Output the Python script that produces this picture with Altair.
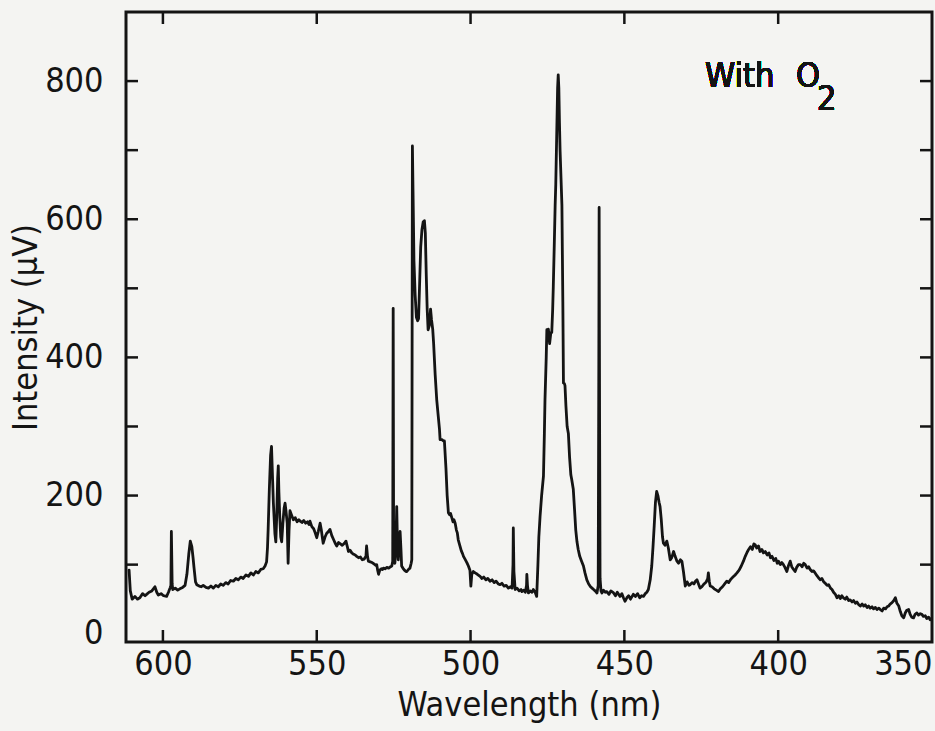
import altair as alt
import pandas as pd

# Emission spectrum with O2: wavelength (nm) vs. detector intensity (µV)
wavelength = [
    611.0, 610.6, 610.0, 609.1, 608.3, 607.5, 606.6, 605.8, 605.3, 604.5,
    603.6, 602.6, 602.0, 601.5, 600.6, 599.8, 598.8, 598.2, 597.7, 597.4,
    597.25, 597.0, 596.8, 596.0, 595.2, 594.5, 593.6, 592.8, 592.2, 591.6,
    591.1, 590.6, 590.2, 589.9, 589.4, 589.0, 588.2, 587.5, 586.9, 586.0,
    585.2, 584.4, 583.6, 582.8, 582.0, 581.2, 580.4, 579.6, 578.8, 578.0,
    577.1, 576.3, 575.5, 574.7, 573.9, 573.0, 572.2, 571.4, 570.6, 569.8,
    569.0, 568.2, 567.4, 566.8, 566.3, 566.0, 565.8, 565.4, 565.0, 564.7,
    564.4, 564.1, 563.9, 563.6, 563.3, 563.0, 562.7, 562.5, 562.3, 562.0,
    561.7, 561.4, 561.0, 560.6, 560.3, 560.0, 559.6, 559.3, 559.0, 558.7,
    558.2, 557.6, 557.0, 556.4, 555.8, 555.4, 554.8, 554.2, 553.6, 553.0,
    552.5, 552.2, 551.6, 551.0, 550.5, 550.0, 549.5, 548.9, 548.5, 548.2,
    547.9, 547.3, 546.8, 546.2, 545.7, 545.1, 544.5, 543.9, 543.5, 542.9,
    542.3, 541.7, 541.0, 540.5, 540.0, 539.7, 539.2, 538.6, 538.0, 537.5,
    537.0, 536.4, 535.8, 535.2, 534.6, 534.0, 533.8, 533.5, 533.2, 532.6,
    532.0, 531.4, 530.8, 530.5, 530.2, 529.9, 529.5, 529.0, 528.6, 528.3,
    527.8, 527.2, 526.6, 526.0, 525.6, 525.3, 525.15, 525.0, 524.6, 524.3,
    524.0, 523.8, 523.5, 523.2, 522.9, 522.6, 522.4, 522.0, 521.5, 521.0,
    520.7, 520.2, 519.7, 519.3, 519.1, 519.0, 518.9, 518.7, 518.4, 518.0,
    517.6, 517.2, 516.9, 516.6, 516.2, 515.8, 515.4, 515.0, 514.7, 514.4,
    514.1, 513.8, 513.4, 513.0, 512.7, 512.3, 512.0, 511.5, 511.0, 510.5,
    510.1, 509.9, 509.3, 508.8, 508.5, 508.0, 507.6, 507.2, 506.8, 506.5,
    506.1, 505.7, 505.4, 505.0, 504.6, 504.3, 504.0, 503.5, 503.0, 502.6,
    502.3, 501.8, 501.2, 500.7, 500.2, 499.9, 499.6, 499.1, 498.5, 497.8,
    496.9, 496.3, 495.7, 495.0, 494.4, 493.7, 493.0, 492.3, 491.7, 491.0,
    490.4, 489.8, 489.1, 488.4, 487.7, 487.0, 486.5, 486.2, 486.1, 485.9,
    485.5, 484.9, 484.2, 483.6, 483.3, 482.7, 482.2, 481.8, 481.7, 481.5,
    481.2, 480.6, 480.0, 479.6, 479.0, 478.5, 478.1, 477.8, 477.4, 476.9,
    476.3, 476.0, 475.8, 475.4, 475.2, 474.9, 474.7, 474.3, 473.9, 473.6,
    473.3, 473.1, 472.8, 472.5, 472.3, 472.0, 471.7, 471.5, 471.3, 471.1,
    470.9, 470.6, 470.3, 470.0, 469.8, 469.5, 469.3, 469.0, 468.6, 468.2,
    467.8, 467.4, 467.1, 466.6, 466.2, 465.8, 465.4, 465.0, 464.5, 464.0,
    463.3, 462.8, 462.2, 461.6, 461.0, 460.5, 460.0, 459.5, 458.9, 458.5,
    458.3, 458.2, 458.05, 457.9, 457.6, 457.3, 456.8, 456.2, 455.7, 455.0,
    454.4, 453.5, 452.9, 452.3, 451.4, 450.8, 450.3, 449.8, 449.2, 448.6,
    448.0, 447.1, 446.4, 445.7, 445.0, 444.4, 443.8, 443.2, 442.7, 442.2,
    441.6, 441.1, 440.7, 440.3, 439.9, 439.5, 439.1, 438.7, 438.4, 438.0,
    437.6, 437.3, 436.8, 436.2, 435.7, 435.1, 434.6, 434.0, 433.5, 432.9,
    432.4, 431.8, 431.3, 430.8, 430.2, 429.6, 429.0, 428.6, 428.0, 427.4,
    426.9, 426.4, 425.9, 425.4, 424.8, 424.1, 423.4, 422.9, 422.7, 422.4,
    422.1, 421.5, 420.8, 420.1, 419.4, 418.8, 418.1, 417.4, 416.7, 416.1,
    415.4, 414.7, 414.0, 413.4, 412.7, 412.0, 411.3, 410.7, 410.1, 409.6,
    409.0, 408.4, 407.9, 407.5, 407.0, 406.4, 405.9, 405.3, 404.8, 404.2,
    403.6, 403.0, 402.5, 402.0, 401.4, 400.8, 400.3, 399.9, 399.3, 398.8,
    398.3, 397.8, 397.2, 396.7, 396.1, 395.6, 395.0, 394.5, 394.0, 393.4,
    392.8, 392.2, 391.7, 391.2, 390.6, 390.1, 389.6, 389.0, 388.5, 388.0,
    387.4, 386.9, 386.3, 385.8, 385.2, 384.7, 384.1, 383.6, 383.0, 382.5,
    382.0, 381.4, 380.9, 380.3, 379.8, 379.3, 378.8, 378.2, 377.7, 377.1,
    376.6, 376.0, 375.5, 374.9, 374.4, 373.8, 373.3, 372.7, 372.2, 371.7,
    371.1, 370.6, 370.1, 369.5, 369.0, 368.4, 367.9, 367.3, 366.8, 366.2,
    365.7, 365.1, 364.6, 364.1, 363.6, 363.0, 362.4, 361.9, 361.4, 360.8,
    360.3, 359.8, 359.2, 358.7, 358.2, 357.6, 357.1, 356.6, 356.0, 355.5,
    354.9, 354.4, 353.8, 353.3, 352.8, 352.2, 351.7, 351.1, 350.6, 350.2,
]

intensity = [
    92, 62, 50, 54, 50, 52, 58, 55, 57, 60,
    62, 68, 60, 56, 58, 55, 54, 60, 66, 70,
    148, 72, 64, 66, 63, 65, 67, 70, 86, 115,
    134, 126, 110, 96, 75, 71, 69, 68, 70, 67,
    66, 69, 66, 70, 68, 72, 70, 74, 72, 77,
    76, 80, 78, 82, 80, 85, 83, 88, 85, 90,
    88, 93, 94, 98, 104, 125, 150, 210, 258, 271,
    230, 190, 172, 145, 133, 170, 225, 243, 205, 168,
    140, 133, 160, 182, 189, 178, 160, 102, 150, 178,
    172, 165, 168, 162, 165, 163, 161, 164, 160, 162,
    158, 163, 155, 152, 146, 139, 148, 160, 150, 140,
    131, 140, 145, 148, 151, 142, 136, 130, 127, 132,
    130, 128, 131, 134, 125, 119, 121, 117, 115, 114,
    112, 110, 111, 107, 108, 112, 127, 112, 105, 104,
    103, 101, 99, 100, 92, 86, 92, 94, 93, 95,
    94, 96, 95, 97, 98, 105, 471, 112, 102, 120,
    184, 140, 107, 130, 148, 120, 98, 95, 92, 90,
    90, 93, 95, 102, 107, 400, 706, 640, 540, 490,
    458, 453, 456, 500, 560, 585, 596, 598, 580, 520,
    470, 440, 446, 470, 455, 441, 420, 375, 339, 315,
    296, 281, 281, 279, 279, 240, 200, 175, 172, 174,
    168, 162, 165, 160, 150, 146, 136, 128, 120, 116,
    112, 108, 103, 98, 92, 69, 86, 90, 88, 86,
    83, 80, 82, 78, 80, 76, 78, 74, 76, 72,
    71, 73, 69, 70, 66, 68, 66, 100, 153, 90,
    64, 66, 62, 64, 61, 63, 60, 70, 86, 70,
    59, 62, 60, 64, 60, 54, 100, 140, 170, 200,
    228, 290, 339, 400, 440, 436, 441, 420, 436, 436,
    470, 503, 560, 620, 650, 720, 790, 809, 790, 740,
    700, 660, 620, 480, 363, 362, 359, 330, 300, 290,
    255, 230, 223, 209, 180, 150, 133, 122, 112, 106,
    98, 88, 78, 72, 68, 66, 64, 62, 59, 70,
    400, 617, 300, 80, 62, 59, 63, 60, 61, 57,
    62, 59, 55, 60, 54, 58, 52, 47, 52, 55,
    50, 57, 54, 58, 52, 55, 54, 58, 60, 64,
    78, 98, 125, 156, 190, 206, 200, 190, 184, 165,
    140, 131, 128, 134, 124, 107, 110, 119, 112, 105,
    102, 107, 105, 90, 69, 75, 70, 71, 74, 72,
    76, 78, 72, 66, 68, 72, 75, 80, 88, 76,
    69, 68, 65, 63, 61, 65, 68, 72, 76, 74,
    79, 82, 85, 88, 92, 98, 105, 112, 118, 122,
    126, 122, 130, 129, 124, 127, 119, 122, 117, 119,
    114, 117, 110, 112, 106, 109, 102, 105, 100, 103,
    100, 96, 90, 98, 105, 97, 93, 90, 96, 100,
    100, 97, 102, 100, 95, 97, 93, 90, 91, 88,
    84, 81, 78, 80, 75, 73, 70, 71, 66, 64,
    60, 57, 52, 55, 51, 55, 52, 50, 53, 48,
    49, 46, 48, 44, 46, 42, 40, 43, 40, 42,
    38, 40, 37, 39, 36, 38, 35, 37, 35, 33,
    37, 36, 39, 40, 43, 45, 48, 52, 44, 40,
    32, 26, 23, 30, 34, 35, 28, 24, 23, 28,
    30, 27, 29, 28, 25, 26, 22, 24, 20, 22,
]

x_tick_values = [600, 550, 500, 450, 400]
x_label_values = [600, 550, 500, 450, 400, 350]
y_tick_values = [100, 200, 300, 400, 500, 600, 700, 800]
y_label_values = [0, 200, 400, 600, 800]

FONT = "DejaVu Sans Condensed, Liberation Sans Narrow, Roboto, sans-serif"
FS = 34
INK = "#141414"
W, H = 806, 630
TICK = 12

spectrum = pd.DataFrame({
    "order": list(range(len(wavelength))),
    "wavelength": wavelength,
    "intensity": intensity,
})
xticks = pd.DataFrame({"wavelength": x_tick_values})
yticks = pd.DataFrame({"intensity": y_tick_values})

xscale = alt.Scale(domain=[350, 612], reverse=True, nice=False, zero=False)
yscale = alt.Scale(domain=[-12, 900], nice=False, zero=False)

x_axis = alt.Axis(
    values=x_label_values, format="d", ticks=False, tickSize=0,
    domain=False, grid=False, labelFlush=True, labelOverlap=False,
    labelFont=FONT, labelFontSize=FS, labelColor=INK, labelPadding=5,
    title="Wavelength (nm)", titleFont=FONT, titleFontSize=FS,
    titleFontWeight="normal", titleColor=INK, titlePadding=7,
)
y_axis = alt.Axis(
    values=y_label_values, format="d", ticks=False, tickSize=0,
    domain=False, grid=False, labelOverlap=False,
    labelFont=FONT, labelFontSize=FS, labelColor=INK, labelPadding=23,
    title="Intensity (µV)", titleFont=FONT, titleFontSize=FS,
    titleFontWeight="normal", titleColor=INK, titlePadding=1,
)

x_enc = alt.X("wavelength:Q", scale=xscale, axis=x_axis)
y_enc = alt.Y("intensity:Q", scale=yscale, axis=y_axis)

line = alt.Chart(spectrum).mark_line(
    color=INK, strokeWidth=2.8, strokeJoin="round", strokeCap="round"
).encode(x=x_enc, y=y_enc, order="order:Q")

# inward-pointing tick marks on all four sides of the frame
tick_style = dict(color=INK, strokeWidth=2.5)
left_ticks = alt.Chart(yticks).mark_rule(**tick_style).encode(
    y=y_enc, x=alt.value(0), x2=alt.value(TICK))
right_ticks = alt.Chart(yticks).mark_rule(**tick_style).encode(
    y=y_enc, x=alt.value(W - TICK), x2=alt.value(W))
bottom_ticks = alt.Chart(xticks).mark_rule(**tick_style).encode(
    x=x_enc, y=alt.value(H - TICK), y2=alt.value(H))
top_ticks = alt.Chart(xticks).mark_rule(**tick_style).encode(
    x=x_enc, y=alt.value(0), y2=alt.value(TICK))

label_style = dict(font=FONT, fontSize=FS, color=INK, align="left",
                   baseline="alphabetic")
note_with = alt.Chart(spectrum).mark_text(**label_style).encode(
    x=alt.value(579), y=alt.value(75), text=alt.value("With"))
note_o = alt.Chart(spectrum).mark_text(**label_style).encode(
    x=alt.value(670), y=alt.value(75), text=alt.value("O"))
note_sub = alt.Chart(spectrum).mark_text(**label_style).encode(
    x=alt.value(691), y=alt.value(98), text=alt.value("2"))

chart = alt.layer(
    line, left_ticks, right_ticks, bottom_ticks, top_ticks,
    note_with, note_o, note_sub,
).properties(
    width=W,
    height=H,
    autosize=alt.AutoSizeParams(type="none"),
    padding={"left": 126, "top": 12, "right": 3, "bottom": 89},
    background="#f4f4f2",
).configure_view(
    stroke=INK, strokeWidth=3, fill="#f4f4f2",
)

chart.save("out.html", embed_options={"renderer": "svg", "actions": False})
